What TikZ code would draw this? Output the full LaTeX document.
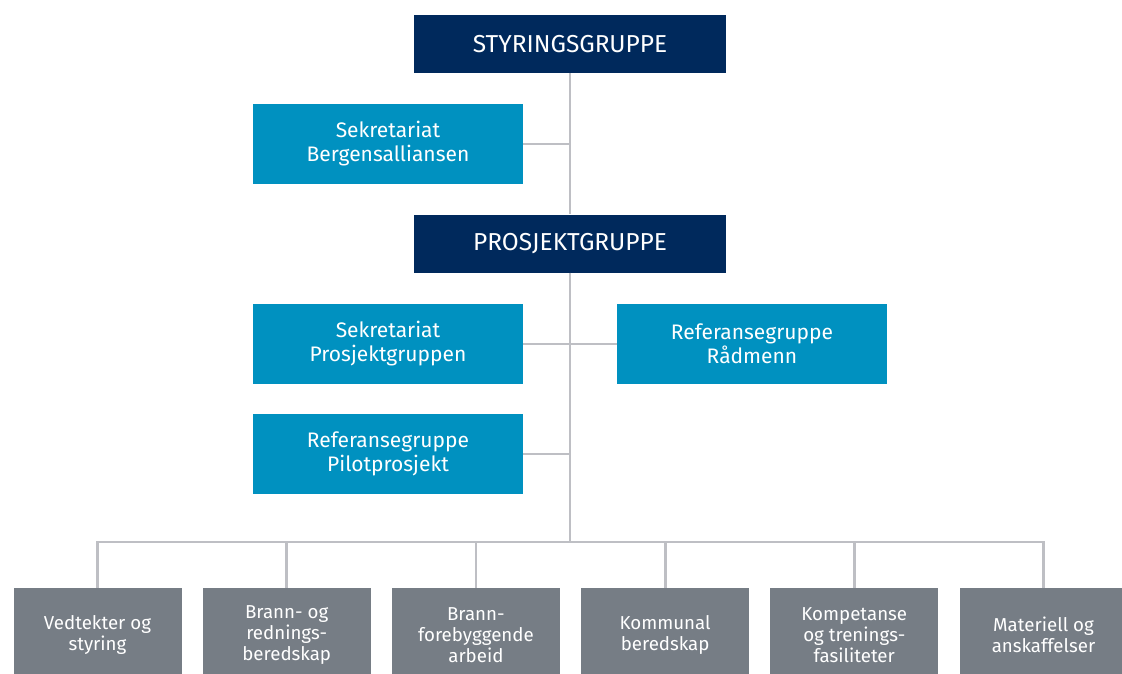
\documentclass[tikz,border=0pt]{standalone}
\usepackage{fontspec}
\setmainfont{Fira Sans}
\definecolor{navy}{RGB}{0,41,92}
\definecolor{midblue}{RGB}{0,145,192}
\definecolor{slate}{RGB}{118,125,133}
\definecolor{linegray}{RGB}{190,191,196}
\begin{document}
\begin{tikzpicture}[x=1pt,y=-1pt,
  topbox/.style={fill=navy,text=white,minimum width=312pt,minimum height=58pt,
    font=\fontsize{24.5}{28}\selectfont},
  sidebox/.style={fill=midblue,text=white,minimum width=270pt,minimum height=80pt,
    align=center,font=\fontsize{21}{24}\selectfont},
  workbox/.style={fill=slate,text=white,minimum width=168pt,minimum height=94pt,
    align=center,font=\fontsize{18.7}{21}\selectfont},
  link/.style={draw=linegray,line width=2.8pt}]
\clip (0,0) rectangle (1122,673);
\useasboundingbox (0,0) rectangle (1122,673);

% Top level
\node[topbox] (styr) at (570,44) {STYRINGSGRUPPE};
\node[sidebox] (sekB) at (388,144) {Sekretariat\\Bergensalliansen};
\node[topbox] (prosj) at (570,243.5) {PROSJEKTGRUPPE};

% Support groups
\node[sidebox] (sekP) at (388,344) {Sekretariat\\Prosjektgruppen};
\node[sidebox] (refR) at (752,344) {Referansegruppe\\Rådmenn};
\node[sidebox] (refP) at (388,454) {Referansegruppe\\Pilotprosjekt};

% Work packages
\foreach \i/\txt in {0/{Vedtekter og\\styring},
                     1/{Brann- og\\rednings-\\beredskap},
                     2/{Brann-\\forebyggende\\arbeid},
                     3/{Kommunal\\beredskap},
                     4/{Kompetanse\\og trenings-\\fasiliteter},
                     5/{Materiell og\\anskaffelser}} {
  \node[workbox] (wp\i) at (97.5+189.2*\i,635) {\txt};
}

% Connectors
\coordinate (bus) at (570,542);
\begin{scope}[on background layer/.try]
\draw[link] (styr.south) -- (prosj.north);
\draw[link] (prosj.south) -- (bus);
\draw[link] (sekB.east) -- (sekB.east -| styr.south);
\draw[link] (sekP.east) -- (refR.west);
\draw[link] (refP.east) -- (refP.east -| prosj.south);
\draw[link,line cap=rect] (wp0.north |- bus) -- (wp5.north |- bus);
\foreach \i in {0,...,5} {
  \draw[link] (wp\i.north |- bus) -- (wp\i.north);
}
\end{scope}
\end{tikzpicture}
\end{document}
